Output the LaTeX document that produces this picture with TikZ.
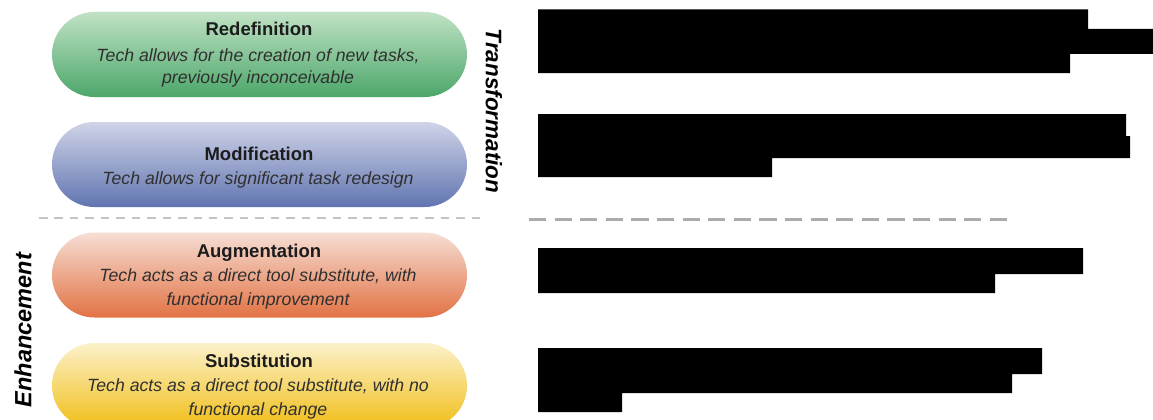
\documentclass[tikz,border=0pt]{standalone}
\usepackage{fontspec}
\setmainfont{Liberation Sans}
\usetikzlibrary{shapes.misc}
\definecolor{titleink}{HTML}{1C1C1C}
\definecolor{bodyink}{HTML}{303030}
\definecolor{dashA}{HTML}{C4C4C4}
\definecolor{dashB}{HTML}{ABABAB}
\tikzset{
  pill/.style={rounded rectangle, minimum width=415pt, minimum height=85pt, inner sep=0pt, draw=none},
  lvltitle/.style={anchor=base, inner sep=0pt, text=titleink, font=\fontsize{18.5}{20}\selectfont\bfseries},
  lvlbody/.style={anchor=base, inner sep=0pt, text=bodyink, font=\fontsize{17.7}{20}\selectfont\itshape},
  phase/.style={inner sep=0pt, text=black, font=\fontsize{22.5}{24}\selectfont\bfseries\itshape},
  redact/.style={fill=black, draw=none},
}
\begin{document}
\begin{tikzpicture}[x=1pt, y=-1pt]
\clip (0,0) rectangle (1153,420);
\fill[white] (0,0) rectangle (1153,420);

% level pills
\node[pill, top color={rgb,255:red,192;green,226;blue,196}, bottom color={rgb,255:red,76;green,166;blue,106}] (redef) at (259.5,54.5) {};
\node[pill, top color={rgb,255:red,208;green,212;blue,232}, bottom color={rgb,255:red,96;green,116;blue,176}] (modif) at (259.5,164.5) {};
\node[pill, top color={rgb,255:red,246;green,222;blue,212}, bottom color={rgb,255:red,226;green,114;blue,68}] (augm) at (259.5,275) {};
\node[pill, top color={rgb,255:red,252;green,241;blue,202}, bottom color={rgb,255:red,240;green,190;blue,22}] (subst) at (259.5,385.5) {};

% level texts
\node[lvltitle] (redefT) at (259,36) {Redefinition};
\node[lvlbody] (redefA) at (258,61) {Tech allows for the creation of new tasks,};
\node[lvlbody] (redefB) at (258,84) {previously inconceivable};

\node[lvltitle] (modifT) at (259,160) {Modification};
\node[lvlbody] (modifA) at (258,184) {Tech allows for significant task redesign};

\node[lvltitle] (augmT) at (259,257) {Augmentation};
\node[lvlbody] (augmA) at (258,281) {Tech acts as a direct tool substitute, with};
\node[lvlbody] (augmB) at (258,305) {functional improvement};

\node[lvltitle] (substT) at (259,367) {Substitution};
\node[lvlbody] (substA) at (258,391) {Tech acts as a direct tool substitute, with no};
\node[lvlbody] (substB) at (258,415) {functional change};

% phase labels
\node[phase, rotate=-90] (transf) at (494,111) {Transformation};
\node[phase, rotate=90, font=\fontsize{23.5}{25}\selectfont\bfseries\itshape] (enh) at (23,330) {Enhancement};

% divider lines
\coordinate (dl1) at (39,218);
\coordinate (dl2) at (480,218);
\coordinate (dr1) at (529,219);
\coordinate (dr2) at (1007,219);
\draw[dashA, line width=2.5pt, dash pattern=on 8.5pt off 6.95pt] (dl1) -- (dl2);
\draw[dashB, line width=3pt, dash pattern=on 17.2pt off 8.4pt] (dr1) -- (dr2);

% redacted text blocks
\fill[redact] (538,9.5) -- (1088,9.5) -- (1088,29) -- (1153,29) -- (1153,54) -- (1070,54) -- (1070,73) -- (538,73) -- cycle;
\fill[redact] (538,114) -- (1126,114) -- (1126,136) -- (1130,136) -- (1130,158) -- (772,158) -- (772,177) -- (538,177) -- cycle;
\fill[redact] (538,248) -- (1083,248) -- (1083,274) -- (995,274) -- (995,293) -- (538,293) -- cycle;
\fill[redact] (538,348) -- (1042,348) -- (1042,374) -- (1012,374) -- (1012,393) -- (622,393) -- (622,412) -- (538,412) -- cycle;
\end{tikzpicture}
\end{document}
